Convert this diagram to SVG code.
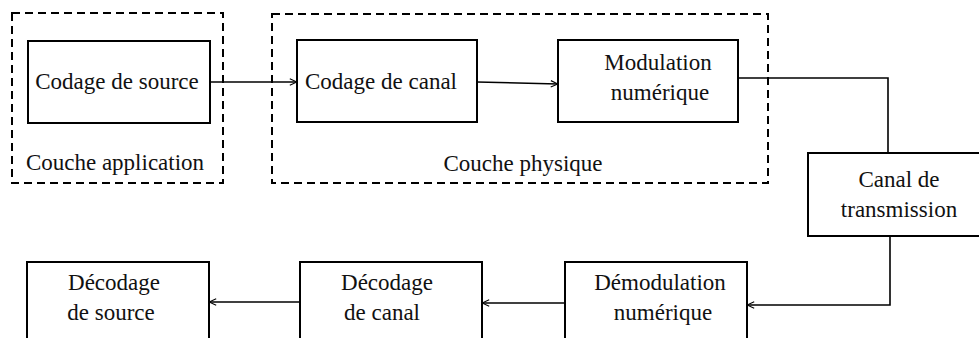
<svg xmlns="http://www.w3.org/2000/svg" width="979" height="338" viewBox="0 0 979 338">
<defs>
<style>
.box{fill:#fff;stroke:#000;stroke-width:2}
.dash{fill:none;stroke:#000;stroke-width:2;stroke-dasharray:8,5}
text{font-family:'Liberation Serif','Times New Roman',Times,'DejaVu Serif',serif;font-size:23px;fill:#111;text-anchor:middle}
.c{fill:none;stroke:#000;stroke-width:1.6}
</style>
<marker id="ah" viewBox="0 0 10 10" refX="10" refY="5" markerWidth="8" markerHeight="8" markerUnits="userSpaceOnUse" orient="auto">
<path d="M1,1 L10,5 L1,9" fill="none" stroke="#000" stroke-width="1.4"/>
</marker>
</defs>
<rect width="979" height="338" fill="#fff"/>
<g id="layer-app">
<rect class="dash" x="12" y="13" width="211" height="170"/>
<text x="115" y="170">Couche application</text>
</g>
<g id="layer-phys">
<rect class="dash" x="272" y="14" width="496" height="169"/>
<text x="523" y="171">Couche physique</text>
</g>
<g id="codage-source">
<rect class="box" x="28" y="41" width="182" height="82"/>
<text x="117" y="89">Codage de source</text>
</g>
<g id="codage-canal">
<rect class="box" x="297" y="40" width="180" height="82"/>
<text x="381" y="89">Codage de canal</text>
</g>
<g id="modulation">
<rect class="box" x="558" y="40" width="180" height="82"/>
<text x="658" y="70">Modulation</text>
<text x="660" y="100">numérique</text>
</g>
<g id="canal-transmission">
<rect class="box" x="808" y="153" width="185" height="83"/>
<text x="899" y="187">Canal de</text>
<text x="899" y="217">transmission</text>
</g>
<g id="decodage-source">
<rect class="box" x="27" y="262" width="182" height="90"/>
<text x="114" y="290">Décodage</text>
<text x="111" y="320">de source</text>
</g>
<g id="decodage-canal">
<rect class="box" x="300" y="262" width="182" height="90"/>
<text x="387" y="290">Décodage</text>
<text x="382" y="320">de canal</text>
</g>
<g id="demodulation">
<rect class="box" x="565" y="262" width="182" height="90"/>
<text x="660" y="290">Démodulation</text>
<text x="663" y="320">numérique</text>
</g>
<g id="connectors">
<line class="c" x1="210" y1="82" x2="297" y2="82" marker-end="url(#ah)"/>
<line class="c" x1="477" y1="82" x2="558" y2="84" marker-end="url(#ah)"/>
<polyline class="c" points="738,78 888,78 888,153"/>
<polyline class="c" points="890,236 890,305 747,305" marker-end="url(#ah)"/>
<line class="c" x1="565" y1="303" x2="482" y2="303" marker-end="url(#ah)"/>
<line class="c" x1="300" y1="302" x2="209" y2="302" marker-end="url(#ah)"/>
</g>
</svg>
